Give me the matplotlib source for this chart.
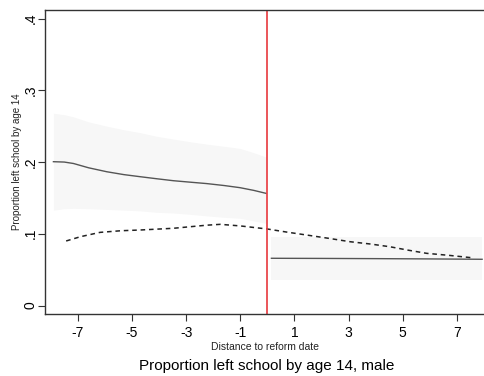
import matplotlib
matplotlib.use("Agg")
import matplotlib.pyplot as plt

plt.rcParams['font.family'] = ['Liberation Sans', 'DejaVu Sans']

# --- data ---
# before reform: fitted line and confidence band
pre_x = [-7.9, -7.5, -7.16, -6.6, -5.93, -5.3, -4.7, -4.1, -3.47, -2.8, -2.24, -1.6, -1.01, -0.5, -0.05]
pre_fit = [0.2005, 0.2, 0.198, 0.192, 0.1865, 0.1825, 0.1796, 0.1768, 0.174, 0.1718, 0.170, 0.1673, 0.1643, 0.1605, 0.1564]
pre_hi = [0.268, 0.266, 0.263, 0.256, 0.250, 0.245, 0.241, 0.236, 0.232, 0.228, 0.225, 0.222, 0.219, 0.213, 0.207]
pre_lo = [0.133, 0.135, 0.1355, 0.135, 0.134, 0.133, 0.132, 0.130, 0.129, 0.127, 0.125, 0.123, 0.1216, 0.118, 0.1146]

# after reform
post_x = [0.15, 2.0, 4.0, 6.0, 7.93]
post_fit = [0.0659, 0.0657, 0.0654, 0.065, 0.0645]
post_hi = [0.095, 0.095, 0.095, 0.095, 0.095]
post_lo = [0.0357, 0.0357, 0.0357, 0.0357, 0.0357]

# comparison (dashed)
cmp_x = [-7.43, -6.9, -6.18, -5.4, -4.7, -3.47, -2.24, -1.74, -1.0, 0.0, 0.7, 1.45, 2.3, 3.05, 3.8, 4.52, 5.2, 5.88, 6.7, 7.54]
cmp_y = [0.090, 0.096, 0.102, 0.1043, 0.1053, 0.1077, 0.112, 0.1132, 0.111, 0.1067, 0.1025, 0.0983, 0.0935, 0.089, 0.0858, 0.082, 0.0772, 0.0728, 0.070, 0.0667]

xticks = [-7, -5, -3, -1, 1, 3, 5, 7]
yticks = [0, 0.1, 0.2, 0.3, 0.4]
ytick_labels = ['0', '.1', '.2', '.3', '.4']

fig = plt.figure(figsize=(4.84, 3.76), dpi=100)
ax = fig.add_axes([0.0936, 0.165, 0.9064, 0.808])

band = '#f7f7f7'
ax.fill_between(pre_x, pre_lo, pre_hi, color=band, lw=0)
ax.fill_between(post_x, post_lo, post_hi, color=band, lw=0)
ax.plot(pre_x, pre_fit, color='#555555', lw=1.0)
ax.plot(post_x, post_fit, color='#555555', lw=1.0)
ax.plot(cmp_x, cmp_y, color='#222222', lw=1.1, ls=(0, (3, 2.5)))
ax.axvline(0, color='#e8383d', lw=1.2)

ax.set_xlim(-8.2, 8.0)
ax.set_ylim(-0.0117, 0.4117)
ax.set_xticks(xticks)
ax.set_xticklabels([str(t) for t in xticks])
ax.set_yticks(yticks)
ax.set_yticklabels(ytick_labels, rotation=90, va='center')

ax.tick_params(axis='both', length=5, width=0.8, color='#333333', labelsize=10)
ax.tick_params(axis='x', pad=4)
ax.tick_params(axis='y', pad=0.5)
for s in ['left', 'bottom', 'top']:
    ax.spines[s].set_color('#333333')
    ax.spines[s].set_linewidth(1.0)
ax.spines['right'].set_visible(False)

ax.set_xlabel('Distance to reform date', fontsize=7.5, color='#222222', labelpad=1)
ax.set_ylabel('Proportion left school by age 14', fontsize=7, color='#222222', labelpad=1.5)
fig.text(0.55, 0.015, 'Proportion left school by age 14, male', ha='center', fontsize=11)

fig.savefig('out.png', dpi=100)
